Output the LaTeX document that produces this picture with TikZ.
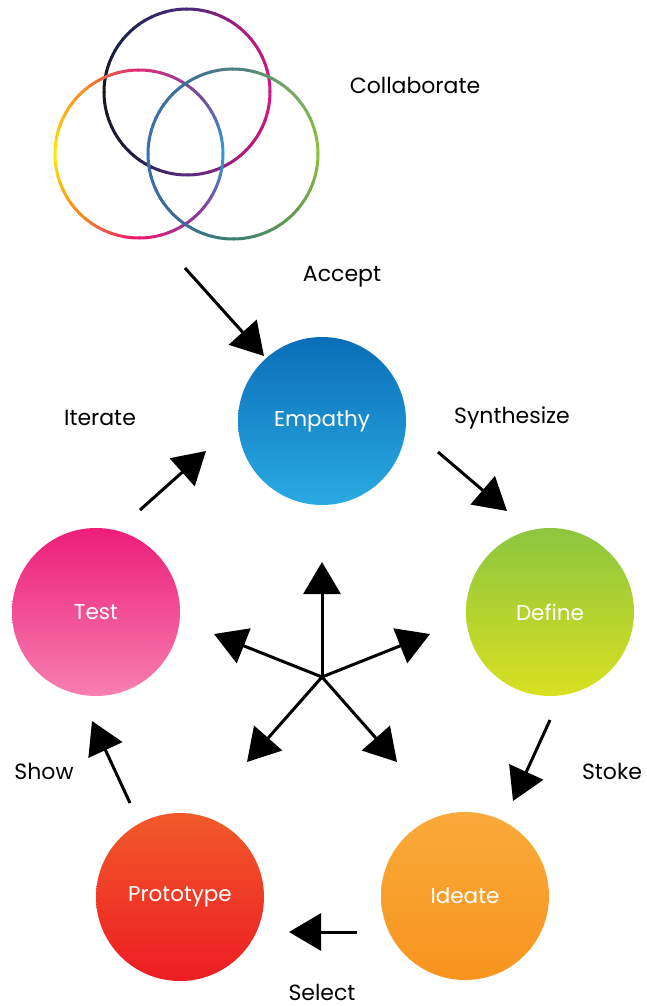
\documentclass[tikz,border=0pt]{standalone}
\usepackage{fontspec}
\setmainfont{Poppins}
\usetikzlibrary{arrows.meta}
\definecolor{tA0}{HTML}{D6157F}\definecolor{tA1}{HTML}{B01A80}\definecolor{tA2}{HTML}{4A2A78}\definecolor{tA3}{HTML}{1E2556}
\definecolor{tA4}{HTML}{16161E}\definecolor{tA5}{HTML}{1A1C3A}\definecolor{tA6}{HTML}{5A2A80}\definecolor{tA7}{HTML}{B4187E}
\definecolor{lA0}{HTML}{2E9BD6}\definecolor{lA1}{HTML}{7A4A9A}\definecolor{lA2}{HTML}{DC2C78}\definecolor{lA3}{HTML}{F7941D}
\definecolor{lA4}{HTML}{FFE600}\definecolor{lA5}{HTML}{F68B1F}\definecolor{lA6}{HTML}{E8186F}\definecolor{lA7}{HTML}{8A3A9A}
\definecolor{rA0}{HTML}{8CBF3F}\definecolor{rA1}{HTML}{78A860}\definecolor{rA2}{HTML}{4E7E80}\definecolor{rA3}{HTML}{3A6FA0}
\definecolor{rA4}{HTML}{3A6FB0}\definecolor{rA5}{HTML}{3A6A9A}\definecolor{rA6}{HTML}{3A7E72}\definecolor{rA7}{HTML}{6A9A50}
\definecolor{empT}{HTML}{0A6EB8}\definecolor{empB}{HTML}{2AAAE2}
\definecolor{defT}{HTML}{8CC63F}\definecolor{defB}{HTML}{D9E021}
\definecolor{ideT}{HTML}{F9AA3A}\definecolor{ideB}{HTML}{F7941D}
\definecolor{proT}{HTML}{F15A29}\definecolor{proB}{HTML}{ED1C24}
\definecolor{tesT}{HTML}{EC1E79}\definecolor{tesB}{HTML}{F77FB0}
\newcommand{\gradring}[4]{% center x, center y, radius, prefix
  \foreach \i [evaluate=\i as \j using {int(mod(\i+1,8))}] in {0,...,7}{
    \foreach \k in {0,...,8}{
      \pgfmathsetmacro{\pc}{100-\k*12.5}
      \pgfmathsetmacro{\ang}{\i*45+\k*5}
      \draw[ring,color=#4\i!\pc!#4\j] ([shift={(\ang:#3)}]#1,#2) arc[start angle=\ang,end angle=\ang+5.6,radius=#3];
    }
  }
}
\begin{document}
\begin{tikzpicture}[x=1pt,y=1pt,
  ring/.style={line width=3pt},
  stage/.style={circle,minimum size=168pt,inner sep=0pt,text=white,font=\fontsize{21.5}{23}\selectfont},
  lbl/.style={text=black,font=\fontsize{22}{24}\selectfont},
  arr/.style={line width=3pt,-{Triangle[length=32pt,width=37pt]}}]
\useasboundingbox (0,0) rectangle (647,-1006);
% Venn rings
\gradring{187}{-92}{83}{tA}
\gradring{139}{-154}{84}{lA}
\gradring{233}{-154}{85}{rA}
% stages
\node[stage,top color=empT,bottom color=empB] (E) at (322,-421) {Empathy};
\node[stage,top color=defT,bottom color=defB] (D) at (550,-612) {Define};
\node[stage,top color=ideT,bottom color=ideB] (I) at (465,-896) {Ideate};
\node[stage,top color=proT,bottom color=proB] (P) at (180,-897) {Prototype};
\node[stage,top color=tesT,bottom color=tesB] (T) at (96,-612) {Test};
% labels
\node[lbl] (lc) at (415,-85) {Collaborate};
\node[lbl] (la) at (342,-277) {Accept};
\node[lbl] (ls) at (512,-418) {Synthesize};
\node[lbl] (li) at (100,-418) {Iterate};
\node[lbl] (lk) at (612,-771) {Stoke};
\node[lbl] (lw) at (44,-771) {Show};
\node[lbl,anchor=base,inner sep=0pt] (le) at (322,-1000) {Select};
% arrow endpoints
\coordinate (a1) at (185,-268); \coordinate (a2) at (264,-356);
\coordinate (s1) at (438,-452); \coordinate (s2) at (507,-511);
\coordinate (k1) at (550,-720); \coordinate (k2) at (513,-801);
\coordinate (e1) at (357,-932); \coordinate (e2) at (289,-932);
\coordinate (w1) at (130,-803); \coordinate (w2) at (92,-721);
\coordinate (i1) at (140,-510); \coordinate (i2) at (206,-451);
\draw[arr] (a1) -- (a2);
\draw[arr] (s1) -- (s2);
\draw[arr] (k1) -- (k2);
\draw[arr] (e1) -- (e2);
\draw[arr] (w1) -- (w2);
\draw[arr] (i1) -- (i2);
% central star
\coordinate (c) at (322,-677);
\coordinate (u) at (322,-562);
\coordinate (ul) at (214,-634);
\coordinate (ur) at (430,-634);
\coordinate (dl) at (247,-762);
\coordinate (dr) at (397,-762);
\foreach \t in {u,ul,ur,dl,dr} \draw[arr] (c) -- (\t);
\end{tikzpicture}
\end{document}
